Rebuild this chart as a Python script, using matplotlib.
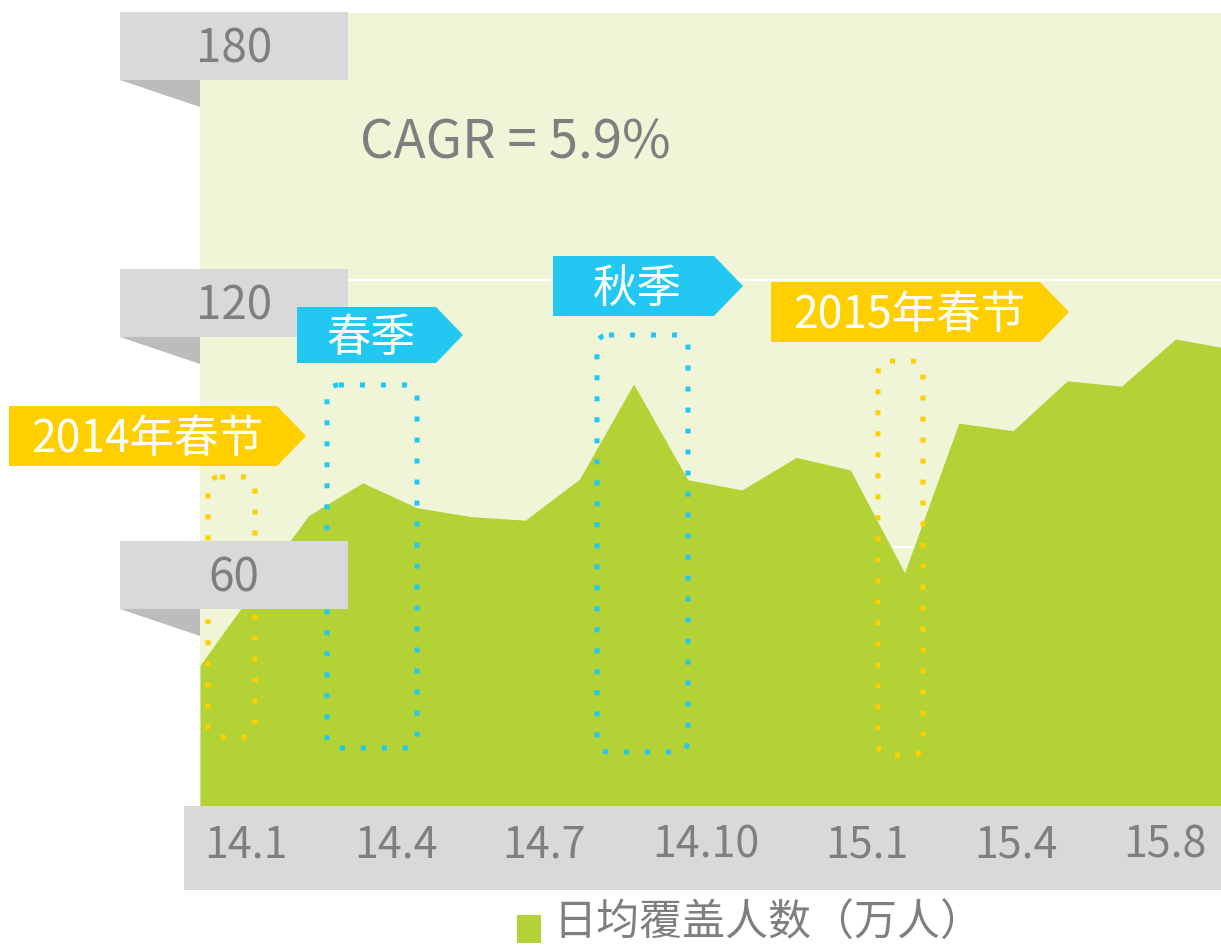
import matplotlib
matplotlib.use("Agg")
import matplotlib.pyplot as plt
from matplotlib.patches import Polygon, Rectangle, FancyBboxPatch

plt.rcParams['font.family'] = ['Noto Sans CJK SC', 'DejaVu Sans']

# monthly data, 2014.1 - 2015.8 (10k people)
months = ['14.1', '14.2', '14.3', '14.4', '14.5', '14.6', '14.7', '14.8', '14.9', '14.10',
          '14.11', '14.12', '15.1', '15.2', '15.3', '15.4', '15.5', '15.6', '15.7', '15.8']
coverage = [33.4, 50.3, 67.0, 74.4, 68.8, 66.8, 66.0, 75.2, 96.6, 75.1,
            72.8, 80.1, 77.3, 54.2, 87.8, 86.1, 97.3, 96.1, 106.7, 104.5]

y_ticks = [180, 120, 60]
x_tick_labels = ['14.1', '14.4', '14.7', '14.10', '15.1', '15.4', '15.8']
legend_label = '日均覆盖人数（万人）'
cagr_text = 'CAGR = 5.9%'

# annotation tags: text, colour
tags = [('2014年春节', '#ffcf00'), ('春季', '#22c8f2'), ('秋季', '#22c8f2'), ('2015年春节', '#ffcf00')]

# layout (pixels, top-left origin)
W, H = 1221, 948
plot_left, plot_top, plot_bottom = 200, 12.7, 814
px_per_month = 54.2
ytick_box_tops = [12, 269, 541]
xtick_centers = [246, 396, 544, 706, 867, 1016, 1165]
tag_boxes = [(9, 277, 306, 406, 466), (297, 436, 463, 307, 363),
             (553, 714, 743, 256, 316), (771, 1040, 1069, 282, 342)]
dot_boxes = [(208, 255, 477, 737, '#ffcf00'), (327, 417, 385, 748, '#22c8f2'),
             (597, 688, 335, 752, '#22c8f2'), (878, 923, 361, 755, '#ffcf00')]

green = '#b2d235'
bg = '#f0f5d8'
box_gray = '#d9d9d9'
txt_gray = '#7f7f7f'

fig = plt.figure(figsize=(W / 100, H / 100), dpi=100)

# data axes
ax = fig.add_axes([plot_left / W, 1 - plot_bottom / H,
                   (W - plot_left) / W, (plot_bottom - plot_top) / H])
ax.set_facecolor(bg)
x = list(range(len(coverage)))
ax.fill_between(x, coverage, 0, color=green, linewidth=0, zorder=2)
ax.set_xlim(0, (W - plot_left) / px_per_month)
ax.set_ylim(0, 180)
ax.set_yticks([60, 120])
ax.grid(axis='y', color='white', linewidth=1.6)
ax.set_axisbelow(True)
ax.tick_params(left=False, bottom=False, labelleft=False, labelbottom=False)
for s in ax.spines.values():
    s.set_visible(False)

# overlay in pixel coordinates
ov = fig.add_axes([0, 0, 1, 1])
ov.set_xlim(0, W)
ov.set_ylim(H, 0)
ov.axis('off')
ov.patch.set_alpha(0)
ov.set_zorder(3)

# dotted highlight boxes (behind the labels)
for l, r, t, b, c in dot_boxes:
    ov.add_patch(FancyBboxPatch((l, t), r - l, b - t,
                                boxstyle='round,pad=0,rounding_size=12',
                                fill=False, edgecolor=c, linewidth=3.6,
                                linestyle=(0, (1, 3.2))))

# x axis band
ov.add_patch(Rectangle((184, 806), W - 184, 84, color=box_gray, lw=0))
for lbl, cx in zip(x_tick_labels, xtick_centers):
    ov.text(cx, 845, lbl, fontsize=31, color=txt_gray, ha='center', va='center')

# y tick boxes with folded corner
for val, top in zip(y_ticks, ytick_box_tops):
    ov.add_patch(Rectangle((120, top), 228, 68, color=box_gray, lw=0))
    ov.add_patch(Polygon([(120, top + 68), (200, top + 68), (200, top + 95)],
                         closed=True, color='#bcbcbc', lw=0))
    ov.text(234, top + 37, str(val), fontsize=33, color=txt_gray, ha='center', va='center')

# CAGR
ov.text(360, 143, cagr_text, fontsize=38, color=txt_gray, ha='left', va='center')

# arrow tags
for (label, col), (l, r, p, t, b) in zip(tags, tag_boxes):
    ov.add_patch(Polygon([(l, t), (r, t), (p, (t + b) / 2), (r, b), (l, b)],
                         closed=True, color=col, lw=0))
    ov.text((l + r) / 2 + 4, (t + b) / 2 + 3, label, fontsize=32, color='white',
            ha='center', va='center')

# legend
ov.add_patch(Rectangle((517, 915), 24, 28, color=green, lw=0))
ov.text(553, 924, legend_label, fontsize=31, color=txt_gray, ha='left', va='center')

fig.savefig('out.png', dpi=100)
